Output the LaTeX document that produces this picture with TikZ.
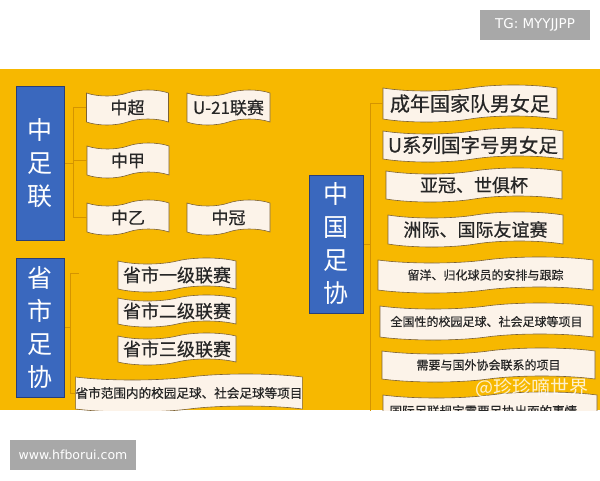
\documentclass[tikz,border=0pt]{standalone}
\usepackage{fontspec}
\setmainfont{Noto Sans CJK SC}
\newfontfamily\ink{Noto Sans CJK SC}[FakeBold=0.5]
\newfontfamily\webfont{DejaVu Sans}
\usetikzlibrary{shapes.symbols}
\definecolor{Y}{RGB}{247,184,0}
\definecolor{B}{RGB}{58,104,190}
\definecolor{D}{RGB}{40,62,120}
\definecolor{P}{RGB}{252,243,233}
\definecolor{E}{RGB}{125,98,52}
\definecolor{T}{RGB}{212,148,0}
\definecolor{G}{RGB}{168,168,168}
\newcommand{\fs}[1]{\ink\fontsize{#1pt}{#1pt}\selectfont}
\tikzset{
  banner/.style={tape, draw=E, fill=P, line width=.6pt, tape bend height=6pt, inner sep=0pt, text=black!85},
  column/.style={draw=D, fill=B, line width=1pt, text=white, align=center, inner sep=0pt,
    font=\fontsize{25pt}{33pt}\selectfont},
  tie/.style={draw=T, line width=.8pt},
  tag/.style={fill=G, text=white, inner sep=0pt}
}
\begin{document}
\begin{tikzpicture}[x=1pt,y=-1pt]
\useasboundingbox (0,0) rectangle (600,480);
\fill[white] (0,0) rectangle (600,480);
\begin{scope}
\clip (0,69) rectangle (600,410);
\fill[Y] (0,69) rectangle (600,410);
% blue columns
\node[column, minimum width=48, minimum height=154] (zzl) at (40,163) {中\\足\\联};
\node[column, minimum width=48, minimum height=139] (ssz) at (40,327.5) {省\\市\\足\\协};
\node[column, minimum width=54, minimum height=138] (zgz) at (336,244) {中\\国\\足\\协};
% brackets
\coordinate (s1) at (73,163);
\coordinate (s2) at (70,327.5);
\coordinate (t2) at (79,273);
\coordinate (s3) at (370,244);
% left top
\node[banner, minimum width=82, minimum height=35, font=\fs{17}] (chao) at (127.5,107.5) {中超};
\node[banner, minimum width=83, minimum height=35, font=\fs{17}] (u21) at (228.5,107.5) {U-21联赛};
\node[banner, minimum width=82, minimum height=35, font=\fs{17}] (jia) at (128,160.5) {中甲};
\node[banner, minimum width=82, minimum height=35, font=\fs{17}] (yi) at (128,217.5) {中乙};
\node[banner, minimum width=83, minimum height=35, font=\fs{17}] (guan) at (228.5,217.5) {中冠};
% left bottom
\node[banner, minimum width=118, minimum height=34, font=\fs{18}] (one) at (177,275) {省市一级联赛};
\node[banner, minimum width=118, minimum height=32, font=\fs{18}] (two) at (177,311) {省市二级联赛};
\node[banner, minimum width=118, minimum height=32, font=\fs{18}] (three) at (177,349) {省市三级联赛};
\node[banner, minimum width=222, minimum height=38, font=\fs{12.6}] (fw) at (189,393) {省市范围内的校园足球、社会足球等项目};
% right
\node[banner, minimum width=174, minimum height=37, font=\fs{20}] (cn) at (470,103.5) {成年国家队男女足};
\node[banner, minimum width=180, minimum height=34, font=\fs{19.5}] (ux) at (473,145) {U系列国字号男女足};
\node[banner, minimum width=176, minimum height=34, font=\fs{18}] (yg) at (474,185) {亚冠、世俱杯};
\node[banner, minimum width=175, minimum height=35, font=\fs{18}] (zj) at (475.5,229.5) {洲际、国际友谊赛};
\node[banner, minimum width=215, minimum height=36, font=\fs{12}] (ly) at (485.5,275) {留洋、归化球员的安排与跟踪};
\node[banner, minimum width=213, minimum height=37, font=\fs{12}] (qg) at (486.5,321.5) {全国性的校园足球、社会足球等项目};
\node[banner, minimum width=213, minimum height=34, font=\fs{12}] (xy) at (488.5,365) {需要与国外协会联系的项目};
\node[banner, minimum width=214, minimum height=38, font=\fs{12.5}] (gj) at (490,411) {国际足联规定需要足协出面的事情…};
\draw[tie] (zzl.east) -- (s1);
\draw[tie] (s1) |- (chao.west);
\draw[tie] (s1) |- (jia.west);
\draw[tie] (s1) |- (yi.west);
\draw[tie] (ssz.east) -- (s2);
\draw[tie] (s2) |- (t2);
\draw[tie] (s2) |- (fw.west);
\draw[tie] (zgz.east) -- (s3);
\draw[tie] (s3) |- (cn.west);
\draw[tie] (s3) |- (gj.west);
\node[text=white, opacity=.8, font=\fontsize{19pt}{19pt}\selectfont] (mark) at (532,388) {@珍珍嘀世界};
\end{scope}
% corner tags
\node[tag, minimum width=110, minimum height=30, font=\webfont\fontsize{13.5pt}{14pt}\selectfont] (tg) at (535,25) {TG: MYYJJPP};
\node[tag, minimum width=126, minimum height=30, font=\webfont\fontsize{12.5pt}{14pt}\selectfont] (web) at (73,455) {www.hfborui.com};
\end{tikzpicture}
\end{document}
